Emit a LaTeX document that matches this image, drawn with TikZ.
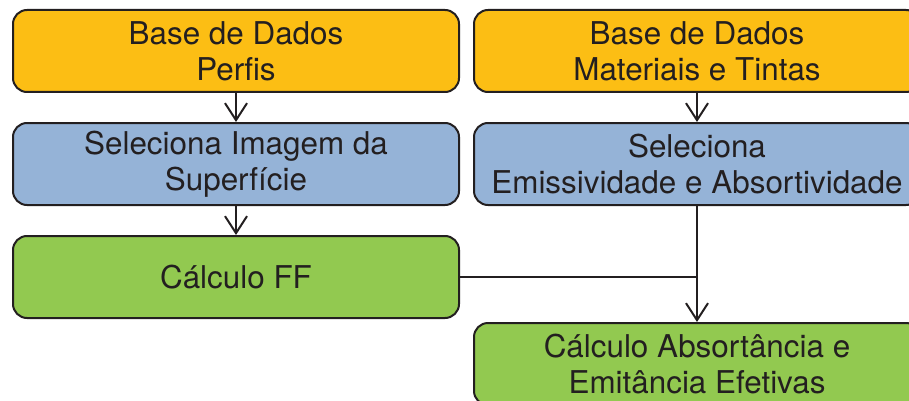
\documentclass[tikz,border=0pt]{standalone}
\usepackage{fontspec}
\setmainfont{TeX Gyre Heros}
\usetikzlibrary{arrows.meta}
\definecolor{cOrange}{RGB}{252,190,20}
\definecolor{cBlue}{RGB}{149,179,215}
\definecolor{cGreen}{RGB}{146,201,80}
\definecolor{cLine}{RGB}{35,31,32}
\tikzset{
  box/.style={draw=cLine, line width=2pt, rounded corners=14pt, minimum width=446pt, minimum height=82pt, align=center, inner sep=0pt, text=cLine, font=\fontsize{31.4}{36}\selectfont},
  obox/.style={box, fill=cOrange},
  bbox/.style={box, fill=cBlue},
  gbox/.style={box, fill=cGreen},
  conn/.style={draw=cLine, line width=2pt},
  arr/.style={conn, -{Straight Barb[length=17pt,width=22pt,line width=2pt]}}
}
\begin{document}
\begin{tikzpicture}[x=1pt,y=-1pt]
\useasboundingbox (0,0) rectangle (909,401);
\clip (0,0) rectangle (909,401);
\node[obox] (bdp) at (236,51) {Base de Dados\\Perfis};
\node[obox] (bdm) at (697,51) {Base de Dados\\Materiais e Tintas};
\node[bbox] (sim) at (236,164) {Seleciona Imagem da\\Superfície};
\node[bbox] (sem) at (697,164) {Seleciona\\Emissividade e Absortividade};
\node[gbox] (ff) at (236,277) {Cálculo FF};
\node[gbox] (cae) at (697,364) {Cálculo Absortância e\\Emitância Efetivas};
\draw[arr] (bdp) -- (sim);
\draw[arr] (bdm) -- (sem);
\draw[arr] (sim) -- (ff);
\draw[arr] (sem) -- (cae);
\coordinate (j) at (ff.east -| sem.south);
\draw[conn] (ff.east) -- (j);
\end{tikzpicture}
\end{document}
